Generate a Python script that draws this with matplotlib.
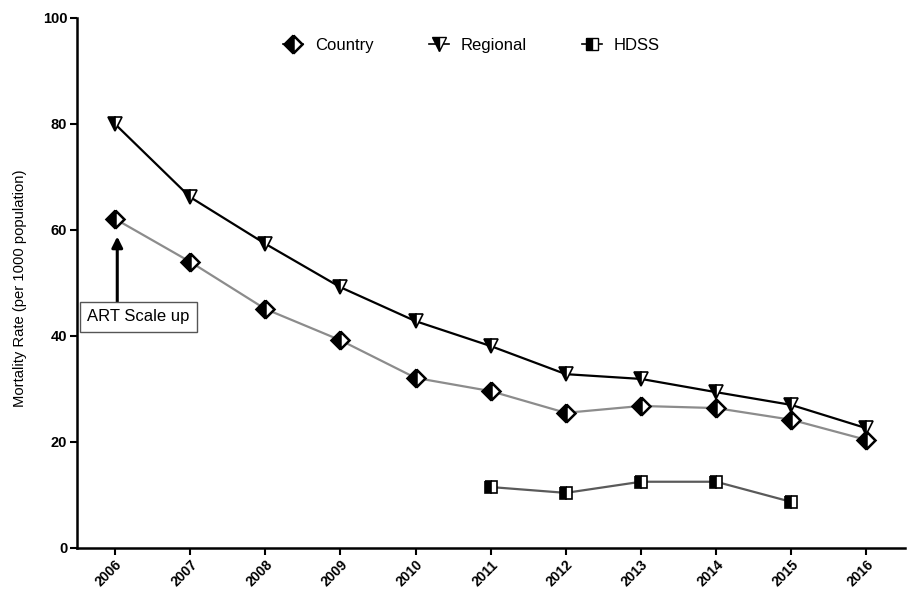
import matplotlib
matplotlib.use("Agg")
import matplotlib.pyplot as plt
from matplotlib.lines import Line2D

years = [2006, 2007, 2008, 2009, 2010, 2011, 2012, 2013, 2014, 2015, 2016]
country = [62.1, 54.0, 45.1, 39.2, 32.1, 29.6, 25.5, 26.8, 26.4, 24.2, 20.4]
regional = [80.0, 66.2, 57.4, 49.2, 42.8, 38.1, 32.8, 31.9, 29.4, 27.0, 22.6]
hdss_years = [2011, 2012, 2013, 2014, 2015]
hdss = [11.5, 10.4, 12.5, 12.5, 8.7]
yticks = [0, 20, 40, 60, 80, 100]

plt.rcParams['font.family'] = ['Liberation Sans', 'DejaVu Sans']

fig = plt.figure(figsize=(9.1, 5.9), dpi=100)
ax = fig.add_axes([0.0846, 0.0712, 0.9104, 0.8983])

ax.plot(years, country, color='#8c8c8c', lw=1.6, marker='D', ms=9,
        mfc='black', mfcalt='white', fillstyle='left', mec='black', mew=1.8, zorder=3)
ax.plot(years, regional, color='black', lw=1.6, marker='v', ms=10,
        mfc='black', mfcalt='white', fillstyle='left', mec='black', mew=1.2, zorder=3)
ax.plot(hdss_years, hdss, color='#5a5a5a', lw=1.6, marker='s', ms=8,
        mfc='black', mfcalt='white', fillstyle='left', mec='black', mew=1.2, zorder=3)

ax.set_xlim(2005.494, 2016.52)
ax.set_ylim(0, 100)
ax.set_xticks(years)
ax.set_xticklabels([str(y) for y in years], rotation=45, ha='right', rotation_mode='anchor',
                   fontsize=10, fontweight='bold')
ax.set_yticks(yticks)
ax.set_yticklabels([str(v) for v in yticks], fontsize=10.5, fontweight='bold')
ax.tick_params(axis='both', direction='out', length=5, width=1.5)
ax.tick_params(axis='x', pad=2)
ax.tick_params(axis='y', pad=2)
for s in ['top', 'right']:
    ax.spines[s].set_visible(False)
for s in ['left', 'bottom']:
    ax.spines[s].set_linewidth(1.8)

ax.set_ylabel('Mortality Rate (per 1000 population)', fontsize=10.6, labelpad=10)
ax.yaxis.set_label_coords(-0.060, 0.49)

ax.annotate('', xy=(2006.03, 59.3), xytext=(2006.03, 45.8),
            arrowprops=dict(arrowstyle='-|>', color='black', lw=2.2, mutation_scale=16))
ax.text(2006.31, 43.6, 'ART Scale up', ha='center', va='center', fontsize=12,
        bbox=dict(boxstyle='square,pad=0.45', fc='white', ec='#555555', lw=1))

handles = [
    Line2D([], [], color='black', lw=1.2, marker='D', ms=9, mfc='black', mfcalt='white',
           fillstyle='left', mec='black', mew=1.8),
    Line2D([], [], color='black', lw=1.2, marker='v', ms=10, mfc='black', mfcalt='white',
           fillstyle='left', mec='black'),
    Line2D([], [], color='black', lw=1.2, marker='s', ms=8, mfc='black', mfcalt='white',
           fillstyle='left', mec='black'),
]
ax.legend(handles, ['Country', 'Regional', 'HDSS'], loc='upper center', ncol=3,
          bbox_to_anchor=(0.476, 0.99), frameon=False, fontsize=12, handlelength=1.2,
          columnspacing=3.3, handletextpad=0.7)

fig.savefig('out.png', dpi=100)
